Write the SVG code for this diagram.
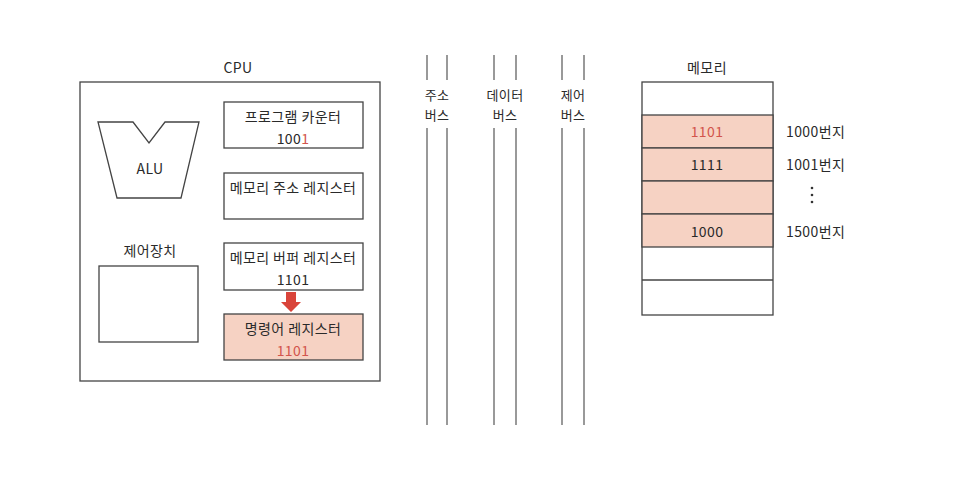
<svg xmlns="http://www.w3.org/2000/svg" width="957" height="480" viewBox="0 0 957 480">
<style>
text{font-family:"Noto Sans CJK KR","Noto Sans",sans-serif;font-size:14px;letter-spacing:0.4px;fill:#2a2a2a;text-anchor:middle;dominant-baseline:central}
.box{fill:#fff;stroke:#444;stroke-width:1.3}
.hl{fill:#f6d2c3;stroke:#444;stroke-width:1.3}
.red{fill:#d2554c}
.bus{stroke:#777;stroke-width:1.5}
.lbl{text-anchor:start}
.bl{font-size:13px}
</style>
<rect width="957" height="480" fill="#fff"/>
<g id="cpu">
<text x="238" y="67">CPU</text>
<rect class="box" x="80" y="82" width="300" height="299"/>
</g>
<g id="alu">
<polygon class="box" points="98,122 133,122 149,143 165,122 199,122 181,198 117,198"/>
<text x="150" y="168">ALU</text>
</g>
<g id="control-unit">
<text x="150" y="250">제어장치</text>
<rect class="box" x="99" y="266" width="99" height="76"/>
</g>
<g id="pc">
<rect class="box" x="224" y="102" width="139" height="46"/>
<text x="293" y="116">프로그램 카운터</text>
<text x="293" y="138">100<tspan class="red">1</tspan></text>
</g>
<g id="mar">
<rect class="box" x="224" y="173" width="139" height="46"/>
<text x="293" y="187">메모리 주소 레지스터</text>
</g>
<g id="mbr">
<rect class="box" x="224" y="243" width="139" height="47"/>
<text x="293" y="257">메모리 버퍼 레지스터</text>
<text x="293" y="279">1101</text>
</g>
<g id="ir">
<rect class="hl" x="224" y="314" width="139" height="46"/>
<text x="293" y="328">명령어 레지스터</text>
<text class="red" x="293" y="350">1101</text>
</g>
<g id="connectors">
<polygon fill="#d9443a" points="286,292 296,292 296,302 301,302 291,312 281,302 286,302"/>
<g id="address-bus">
<line class="bus" x1="427" y1="55" x2="427" y2="80"/><line class="bus" x1="447" y1="55" x2="447" y2="80"/>
<line class="bus" x1="427" y1="128" x2="427" y2="425"/><line class="bus" x1="447" y1="128" x2="447" y2="425"/>
</g>
<g id="data-bus">
<line class="bus" x1="494" y1="55" x2="494" y2="80"/><line class="bus" x1="516" y1="55" x2="516" y2="80"/>
<line class="bus" x1="494" y1="128" x2="494" y2="425"/><line class="bus" x1="516" y1="128" x2="516" y2="425"/>
</g>
<g id="control-bus">
<line class="bus" x1="562" y1="55" x2="562" y2="80"/><line class="bus" x1="584" y1="55" x2="584" y2="80"/>
<line class="bus" x1="562" y1="128" x2="562" y2="425"/><line class="bus" x1="584" y1="128" x2="584" y2="425"/>
</g>
</g>
<g id="bus-labels">
<text class="bl" x="437" y="94">주소</text><text class="bl" x="437" y="114">버스</text>
<text class="bl" x="505" y="94">데이터</text><text class="bl" x="505" y="114">버스</text>
<text class="bl" x="573" y="94">제어</text><text class="bl" x="573" y="114">버스</text>
</g>
<g id="memory">
<text x="707" y="67">메모리</text>
<rect class="box" x="642" y="82" width="131" height="233"/>
<rect class="hl" x="642" y="115" width="131" height="33"/>
<rect class="hl" x="642" y="148" width="131" height="33"/>
<rect class="hl" x="642" y="181" width="131" height="33"/>
<rect class="hl" x="642" y="214" width="131" height="33"/>
<line x1="642" y1="280" x2="773" y2="280" stroke="#444" stroke-width="1.3"/>
<text class="red" x="707" y="131">1101</text>
<text x="707" y="164">1111</text>
<text x="707" y="231">1000</text>
<text class="lbl" x="786" y="131">1000번지</text>
<text class="lbl" x="786" y="164">1001번지</text>
<circle cx="812" cy="188" r="1.3" fill="#333"/><circle cx="812" cy="195" r="1.3" fill="#333"/><circle cx="812" cy="202" r="1.3" fill="#333"/>
<text class="lbl" x="786" y="231">1500번지</text>
</g>
</svg>
